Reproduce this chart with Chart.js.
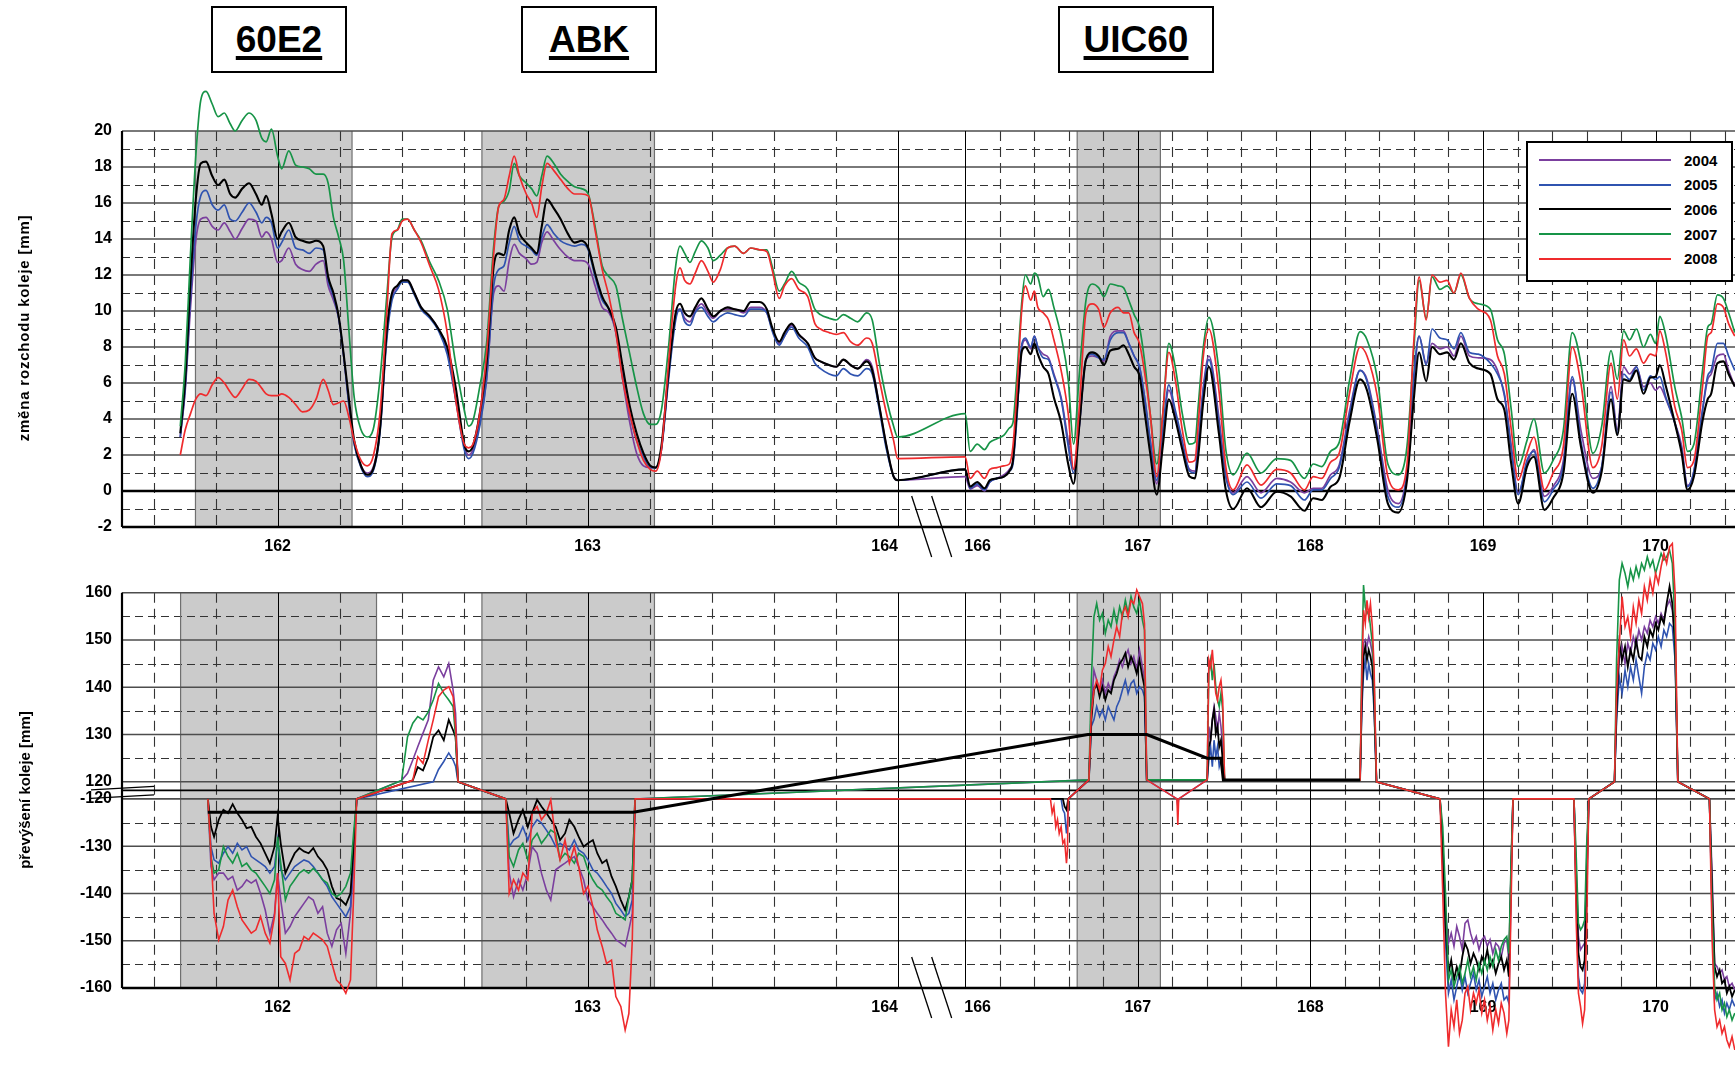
<!DOCTYPE html>
<html>
<head>
<meta charset="utf-8">
<title>Rozchod a převýšení koleje</title>
<script src="https://cdn.jsdelivr.net/npm/chart.js@4.4.1/dist/chart.umd.min.js"></script>
<style>
  body { margin: 0; width: 1735px; height: 1076px; overflow: hidden; position: relative; background: #fff;
         font-family: 'Liberation Sans', Arial, sans-serif; }
  canvas { position: absolute; left: 0; top: 0; }
  .tag { position: absolute; top: 6px; height: 67px; box-sizing: border-box; border: 2px solid #000; background: #fff;
         text-align: center; line-height: 63px; font-weight: bold; font-size: 37px;
         text-decoration: underline; text-decoration-thickness: 4px; text-underline-offset: 4px; }
  .ytitle { position: absolute; font-weight: bold; font-size: 15px; white-space: nowrap;
            transform: translate(-50%, -50%) rotate(-90deg); }
  #legend { position: absolute; left: 1526px; top: 141px; width: 207px; height: 141px; box-sizing: border-box;
            border: 2px solid #000; background: #fff; padding-top: 5px; }
  #legend .row { height: 24.6px; display: flex; align-items: center; font-weight: bold; font-size: 15px; }
  #legend .swatch { width: 132px; height: 2px; margin-left: 11px; margin-right: 13px; }
</style>
</head>
<body>
<canvas id="gauge" width="1735" height="1076"></canvas>
<canvas id="cant" width="1735" height="1076"></canvas>

<div class="tag" style="left:211px;width:136px">60E2</div>
<div class="tag" style="left:521px;width:136px">ABK</div>
<div class="tag" style="left:1058px;width:156px">UIC60</div>
<div class="ytitle" style="left:23px;top:328px;letter-spacing:0.8px">změna rozchodu koleje [mm]</div>
<div class="ytitle" style="left:24px;top:790px">převýšení koleje [mm]</div>
<div id="legend"></div>

<script>
// ---------- data: top chart, change of track gauge [mm] ----------
const topKm = [
  161.686, 161.702, 161.719, 161.736, 161.752, 161.769, 161.789, 161.808, 161.828, 161.847,
  161.863, 161.886, 161.908, 161.930, 161.949, 161.963, 161.980, 162.000, 162.013, 162.036,
  162.058, 162.080, 162.102, 162.124, 162.147, 162.163, 162.180, 162.197, 162.213, 162.230,
  162.247, 162.269, 162.289, 162.308, 162.330, 162.352, 162.369, 162.386, 162.402, 162.419,
  162.441, 162.463, 162.491, 162.519, 162.547, 162.574, 162.602, 162.616, 162.630, 162.652,
  162.674, 162.697, 162.713, 162.730, 162.747, 162.763, 162.780, 162.802, 162.819, 162.836,
  162.852, 162.869, 162.891, 162.913, 162.936, 162.958, 162.980, 163.002, 163.024, 163.047,
  163.069, 163.091, 163.113, 163.136, 163.158, 163.180, 163.202, 163.219,
  163.238, 163.261, 163.284, 163.298, 163.313, 163.330, 163.347, 163.367, 163.388, 163.405,
  163.428, 163.451, 163.474, 163.503, 163.526, 163.555, 163.578, 163.595, 163.618, 163.635,
  163.658, 163.681, 163.710, 163.733, 163.751, 163.779, 163.802, 163.825, 163.848, 163.871,
  163.900, 163.918, 163.941, 163.964, 163.987, 164.000,
  166.000, 166.029, 166.070, 166.112, 166.143, 166.184, 166.225, 166.256, 166.277, 166.298,
  166.329, 166.349, 166.380, 166.401, 166.421, 166.452, 166.483, 166.514, 166.556, 166.597,
  166.628, 166.659, 166.700, 166.736, 166.773, 166.804, 166.841, 166.886, 166.917, 166.948,
  166.979, 167.010, 167.041, 167.072, 167.110, 167.145, 167.180, 167.217, 167.258, 167.300, 167.331,
  167.351, 167.380, 167.412, 167.470, 167.510, 167.553, 167.633, 167.714, 167.805, 167.885,
  167.966, 168.016, 168.066, 168.117, 168.167, 168.228, 168.288, 168.328, 168.389, 168.449,
  168.510, 168.560, 168.600, 168.630, 168.671, 168.705, 168.751, 168.792, 168.832, 168.872,
  168.922, 168.973, 169.043, 169.084, 169.124, 169.164, 169.204, 169.255, 169.295, 169.356,
  169.406, 169.466, 169.517, 169.567, 169.637, 169.688, 169.742, 169.778, 169.815, 169.849,
  169.889, 169.930, 169.970, 170.000, 170.024, 170.060, 170.111, 170.151, 170.185, 170.222,
  170.272, 170.302, 170.322, 170.358, 170.393, 170.423, 170.459
];
const gauge2004 = [
  3.0, 5.6, 10.2, 13.9, 15.1, 15.2, 14.7, 14.5, 14.9, 14.4, 14.0, 14.6, 15.1, 15.0, 14.1, 14.4, 14.0, 12.7, 12.8, 13.5,
  12.6, 12.3, 12.2, 12.6, 12.8, 11.4, 10.6, 9.6, 7.5, 4.8, 2.6, 1.4, 1.0, 1.3, 3.4, 8.6, 10.8, 11.3, 11.7, 11.7,
  11.0, 10.2, 9.7, 9.0, 7.8, 5.2, 2.5, 2.0, 2.3, 3.8, 6.2, 11.0, 11.4, 11.1, 12.8, 13.7, 13.2, 12.9, 12.6, 12.7,
  13.8, 14.4, 13.9, 13.4, 13.0, 12.8, 12.8, 12.6, 11.4, 10.2, 9.9, 8.8, 6.2, 3.8, 2.1, 1.4, 1.3, 1.3,
  2.3, 6.4, 9.7, 10.1, 9.6, 9.4, 10.0, 10.4, 9.9, 9.6, 10.0, 10.1, 10.1, 9.9, 10.2, 10.2, 9.9, 9.0, 8.2, 8.6,
  9.2, 8.7, 8.2, 7.4, 7.2, 7.0, 6.9, 7.3, 7.0, 6.8, 7.3, 6.9, 4.7, 2.5, 0.8, 0.6,
  0.8, 0.1, 0.3, 0.0, 0.5, 0.7, 0.9, 1.2, 1.7, 4.1, 8.0, 8.4, 7.9, 8.6, 8.0, 7.6, 7.4, 6.5, 5.2, 2.8,
  1.2, 3.4, 7.3, 7.5, 7.4, 7.2, 8.6, 8.9, 8.9, 8.2, 7.5, 6.9, 5.1, 2.8, 0.4, 3.2, 5.6, 4.3, 2.5, 1.2, 1.1,
  2.8, 5.8, 7.5, 4.1, 0.9, -0.1, 0.8, -0.1, 0.7, 0.5, -0.1, 0.15, 0.15, 0.9, 1.45, 4.5, 6.7, 6.2, 3.4, 0.06,
  -0.7, 1.1, 6.2, 8.6, 7.1, 8.2, 7.9, 8.0, 7.5, 8.6, 7.5, 7.4, 7.3, 6.7, 5.3, 2.5, -0.1, 1.5, 2.3, -0.3,
  0.24, 1.7, 6.2, 3.4, 0.7, 1.35, 5.8, 3.4, 6.9, 6.5, 6.9, 5.8, 6.0, 5.6, 5.8, 5.1, 3.8, 2.5, 0.3, 1.1,
  4.5, 6.2, 6.5, 7.5, 7.6, 6.7, 5.8
];
const gauge2005 = [
  3.0, 5.8, 10.8, 14.7, 16.4, 16.7, 15.9, 15.6, 15.9, 15.1, 15.0, 15.5, 16.0, 15.5, 14.9, 15.2, 14.9, 13.5, 13.8, 14.5,
  13.5, 13.4, 13.2, 13.5, 13.4, 11.7, 10.8, 9.6, 7.5, 4.8, 2.6, 1.3, 0.8, 1.1, 3.2, 8.4, 10.6, 11.2, 11.6, 11.6,
  10.9, 10.1, 9.6, 8.9, 7.6, 5.1, 2.3, 1.8, 2.1, 3.6, 6.2, 11.4, 12.3, 12.5, 13.8, 14.7, 13.9, 13.6, 13.4, 13.1,
  14.1, 14.8, 14.3, 13.9, 13.7, 13.6, 13.7, 13.4, 11.9, 10.6, 10.1, 8.9, 6.5, 4.3, 2.8, 1.9, 1.3, 1.3,
  2.3, 6.2, 9.5, 10.1, 9.4, 9.2, 9.9, 10.2, 9.7, 9.4, 9.7, 9.9, 9.8, 9.7, 10.1, 10.1, 9.9, 8.9, 8.1, 8.6,
  9.1, 8.5, 8.0, 7.1, 6.8, 6.5, 6.4, 6.8, 6.5, 6.4, 6.8, 6.5, 4.5, 2.3, 0.8, 0.6,
  1.2, 0.15, 0.4, 0.06, 0.5, 0.7, 0.8, 1.1, 1.5, 3.8, 8.2, 8.5, 8.0, 8.6, 8.0, 7.4, 7.3, 6.4, 5.1, 2.5,
  1.0, 3.4, 7.3, 7.6, 7.4, 7.3, 8.4, 8.8, 8.8, 8.2, 7.5, 6.9, 5.1, 2.8, 0.6, 3.4, 5.9, 4.5, 2.8, 1.1, 1.0,
  2.6, 5.6, 7.3, 3.8, 0.8, -0.2, 0.5, -0.4, 0.4, 0.3, -0.5, 0.06, 0.06, 0.7, 1.3, 4.3, 6.7, 6.1, 3.2, -0.3,
  -0.9, 1.0, 6.5, 8.6, 7.0, 9.0, 8.5, 8.4, 7.9, 8.8, 7.7, 7.6, 7.1, 6.5, 5.4, 2.3, -0.2, 1.7, 2.2, -0.6,
  0.06, 1.45, 6.35, 2.8, 0.15, 1.35, 5.5, 3.2, 6.5, 6.2, 6.9, 5.6, 6.4, 6.2, 6.35, 5.2, 3.8, 2.3, 0.24, 1.1,
  4.5, 6.4, 6.7, 8.2, 8.2, 7.5, 6.7
];
const gauge2006 = [
  3.2, 6.2, 11.7, 16.2, 18.2, 18.3, 17.5, 17.0, 17.3, 16.5, 16.3, 16.8, 17.1, 16.5, 15.9, 16.4, 15.4, 14.0, 14.4, 14.9,
  14.1, 13.9, 13.8, 13.9, 13.6, 11.9, 11.0, 9.7, 7.6, 5.1, 2.8, 1.4, 0.9, 1.2, 3.4, 8.9, 11.0, 11.4, 11.7, 11.7,
  11.0, 10.2, 9.7, 9.0, 8.0, 5.8, 2.6, 2.2, 2.5, 4.3, 7.1, 12.5, 13.2, 13.1, 14.5, 15.2, 14.3, 13.8, 13.5, 13.2,
  14.7, 16.2, 15.7, 15.1, 14.3, 13.8, 13.9, 13.5, 12.1, 10.8, 10.1, 9.1, 6.9, 4.7, 3.2, 2.1, 1.4, 1.3,
  2.5, 6.6, 9.9, 10.4, 9.9, 9.7, 10.2, 10.7, 10.1, 9.7, 10.0, 10.2, 10.1, 10.0, 10.5, 10.5, 10.1, 9.1, 8.3, 8.8,
  9.3, 8.7, 8.2, 7.4, 7.2, 7.0, 6.9, 7.3, 7.0, 6.8, 7.2, 6.7, 4.7, 2.5, 0.8, 0.6,
  1.2, 0.24, 0.5, 0.15, 0.6, 0.7, 0.8, 1.1, 1.7, 4.3, 7.8, 8.0, 7.6, 8.2, 7.6, 6.9, 6.5, 5.2, 3.8, 1.5,
  0.4, 3.4, 7.3, 7.7, 7.5, 7.0, 7.8, 7.9, 8.1, 7.6, 6.9, 6.4, 4.3, 2.1, -0.2, 2.5, 5.1, 4.0, 2.3, 0.8, 0.7,
  2.0, 5.0, 6.9, 3.2, 0.06, -1.0, 0.15, -0.9, -0.04, -0.3, -1.1, -0.4, -0.5, 0.24, 0.7, 3.9, 6.2, 5.6, 2.8, -0.7,
  -1.2, 0.6, 5.2, 7.7, 6.1, 8.0, 7.6, 7.7, 7.3, 8.2, 7.1, 6.8, 6.5, 5.1, 4.5, 1.5, -0.7, 1.35, 1.9, -1.05,
  -0.4, 1.0, 5.4, 2.5, -0.1, 1.1, 5.1, 3.1, 6.2, 6.1, 6.7, 5.4, 6.3, 6.35, 7.0, 5.8, 3.8, 2.1, 0.06, 0.8,
  3.9, 5.1, 5.4, 7.1, 7.2, 6.5, 5.8
];
const gauge2007 = [
  3.6, 7.1, 13.2, 18.6, 21.7, 22.2, 21.5, 20.8, 21.0, 20.4, 20.0, 20.6, 21.0, 20.6, 19.6, 19.4, 20.1, 18.6, 17.9, 18.9,
  18.1, 18.0, 17.9, 17.6, 17.6, 17.1, 15.2, 14.1, 12.8, 8.9, 5.2, 3.4, 3.0, 3.4, 6.2, 10.8, 14.1, 14.5, 15.1, 15.1,
  14.5, 13.9, 12.7, 11.7, 10.1, 7.1, 4.5, 3.6, 3.9, 5.8, 8.2, 13.6, 15.8, 16.1, 16.7, 18.2, 17.5, 17.1, 16.8, 16.4,
  17.5, 18.6, 18.2, 17.6, 17.2, 16.9, 16.8, 16.5, 14.7, 12.5, 11.9, 11.4, 9.5, 7.6, 5.8, 4.3, 3.7, 3.7,
  4.5, 8.0, 12.5, 13.6, 13.2, 12.7, 13.3, 13.9, 13.5, 12.8, 13.1, 13.5, 13.6, 13.2, 13.5, 13.4, 13.4, 12.5, 11.1, 11.5,
  12.2, 11.6, 11.2, 10.1, 9.8, 9.6, 9.5, 9.8, 9.6, 9.4, 9.9, 9.5, 7.1, 5.1, 3.6, 3.0,
  4.3, 2.2, 2.6, 2.3, 2.7, 2.9, 3.1, 3.5, 3.8, 6.2, 10.6, 12.0, 11.5, 12.1, 11.9, 10.8, 11.2, 10.2, 8.6, 6.2,
  2.6, 6.2, 10.6, 11.5, 11.3, 10.8, 11.5, 11.4, 11.3, 10.6, 9.8, 9.1, 7.1, 4.3, 1.5, 4.3, 8.2, 6.9, 4.3, 2.6, 2.7,
  4.8, 8.0, 9.65, 6.7, 2.3, 0.9, 2.1, 1.0, 1.8, 1.7, 0.7, 1.5, 1.35, 2.2, 2.7, 6.2, 8.85, 8.4, 6.2, 1.5,
  0.9, 2.5, 8.0, 11.7, 9.6, 11.9, 11.2, 11.4, 11.0, 12.0, 10.7, 10.4, 10.1, 8.4, 7.6, 4.5, 1.35, 2.8, 4.0, 1.0,
  1.7, 3.4, 8.8, 7.1, 2.1, 3.6, 7.8, 6.2, 8.9, 8.4, 9.0, 8.0, 8.7, 8.2, 9.7, 8.6, 5.8, 4.1, 2.2, 2.6,
  6.7, 9.1, 9.3, 10.9, 10.7, 9.9, 8.8
];
const gauge2008 = [
  2.0, 3.4, 4.3, 5.1, 5.4, 5.3, 5.9, 6.3, 6.0, 5.5, 5.2, 5.7, 6.2, 6.1, 5.7, 5.4, 5.3, 5.3, 5.4, 5.2,
  4.8, 4.4, 4.5, 5.1, 6.2, 5.6, 4.8, 4.9, 5.0, 4.1, 2.8, 1.7, 1.4, 1.9, 4.3, 9.9, 14.3, 14.5, 15.0, 15.1,
  14.5, 13.8, 12.5, 11.2, 8.8, 5.1, 2.6, 2.4, 2.6, 4.3, 7.6, 13.2, 15.8, 16.2, 17.5, 18.6, 17.5, 16.5, 16.0, 15.2,
  16.9, 18.2, 17.8, 17.3, 16.8, 16.5, 16.5, 16.4, 14.5, 12.3, 10.8, 8.8, 6.2, 4.3, 2.8, 1.7, 1.2, 1.1,
  2.3, 7.1, 11.4, 12.4, 11.7, 11.5, 12.1, 12.8, 12.2, 11.6, 12.3, 13.5, 13.6, 13.2, 13.5, 13.4, 13.3, 12.3, 10.7, 11.4,
  11.8, 11.2, 10.8, 9.3, 9.0, 8.8, 8.7, 8.8, 8.3, 8.1, 8.5, 8.2, 6.2, 4.3, 2.8, 1.8,
  1.9, 0.7, 1.1, 0.7, 1.2, 1.3, 1.4, 1.5, 2.5, 5.3, 10.2, 11.4, 10.6, 11.1, 10.2, 9.9, 9.5, 8.4, 6.7, 4.3,
  1.2, 4.3, 9.9, 10.4, 10.1, 9.1, 9.9, 10.2, 9.9, 9.9, 8.8, 8.2, 6.5, 4.3, 0.8, 4.3, 7.7, 6.2, 3.4, 1.6, 1.7,
  3.8, 7.5, 9.0, 5.6, 1.35, 0.06, 1.45, 0.33, 1.2, 1.0, 0.06, 0.8, 0.7, 1.6, 2.1, 5.5, 8.0, 7.5, 5.2, 0.8,
  0.06, 1.5, 8.4, 11.9, 9.5, 12.0, 11.6, 11.7, 11.0, 12.1, 10.7, 10.1, 9.5, 7.5, 6.5, 3.4, 0.6, 2.1, 3.0, 0.06,
  1.0, 2.5, 8.0, 6.0, 1.3, 2.5, 7.1, 5.1, 8.4, 7.5, 7.9, 7.1, 7.6, 7.5, 8.9, 7.6, 4.7, 3.4, 1.3, 1.7,
  5.8, 8.6, 8.8, 10.4, 10.2, 9.3, 8.6
];

// ---------- data: bottom chart, superelevation [mm] (null = no reading at that km) ----------
const bottomKm = [
  161.775,
  161.785, 161.795, 161.810, 161.825, 161.840, 161.855, 161.870, 161.885, 161.900, 161.915,
  161.930, 161.945, 161.960, 161.975, 161.990, 162.000, 162.010, 162.025, 162.040, 162.055,
  162.070, 162.085, 162.100, 162.115, 162.130, 162.145, 162.160, 162.175, 162.190, 162.205,
  162.220, 162.235, 162.245,
  162.255,
  162.400, 162.419, 162.436, 162.452, 162.469, 162.486, 162.502, 162.519, 162.536, 162.552, 162.566, 162.574, 162.582,
  162.736,
  162.747, 162.761, 162.777, 162.791, 162.807, 162.821, 162.837, 162.851, 162.867, 162.881,
  162.897, 162.911, 162.927, 162.941, 162.957, 162.971, 162.987, 163.001, 163.017, 163.031,
  163.047, 163.061, 163.077, 163.091, 163.107, 163.121, 163.133, 163.144,
  163.153,
  166.494, 166.504, 166.514, 166.525, 166.535, 166.545, 166.556, 166.566, 166.576, 166.587, 166.593, 166.597,
  166.717, 166.731, 166.746, 166.762, 166.779, 166.795, 166.812, 166.829, 166.845, 166.862,
  166.878, 166.895, 166.911, 166.928, 166.944, 166.961, 166.977, 166.994, 167.010, 167.027, 167.039, 167.052,
  167.227, 167.232, 167.237,
  167.402, 167.412, 167.422, 167.432, 167.442, 167.452, 167.462, 167.472, 167.482, 167.492, 167.503,
  168.288, 168.298, 168.308, 168.318, 168.328, 168.338, 168.348, 168.359, 168.369, 168.383,
  168.751, 168.767, 168.783, 168.800, 168.816, 168.832, 168.848, 168.864, 168.880, 168.896,
  168.912, 168.928, 168.945, 168.961, 168.977, 168.993, 169.009, 169.025, 169.041, 169.057,
  169.074, 169.090, 169.106, 169.122, 169.138, 169.150, 169.164, 169.174,
  169.527, 169.541, 169.553, 169.565, 169.577, 169.589, 169.601, 169.613,
  169.762, 169.774, 169.790, 169.806, 169.823, 169.839, 169.855, 169.871, 169.887, 169.903,
  169.919, 169.935, 169.952, 169.968, 169.984, 170.000, 170.016, 170.032, 170.048, 170.064,
  170.081, 170.097, 170.113, 170.129,
  170.312, 170.328, 170.342, 170.356, 170.371, 170.385, 170.399, 170.413, 170.427, 170.443, 170.459
];
const cant2004 = [
  -120,
  -134.3, -137.1, -135.7, -135.7, -137.1, -136.4, -139.3, -138.5, -137.1, -137.8, -137.1, -140, -143.5, -148.4, -144.2,
  -135.7, -141.4, -148.4, -147, -144.9, -143.5, -142.1, -140.7, -141.4, -144.2, -142.8, -148.4, -151.2, -147.7, -146.3,
  -152.7, -144.2, -134.3,
  -120,
  120.3, 121.8, 124.6, 127.4, 130.3, 133.1, 141.5, 144.3, 142.2, 145.0, 139.4, 134.5, 120,
  -120,
  -135.7, -140.7, -137.1, -139.3, -135.7, -130.1, -131.5, -135.7, -139.3, -141.4, -135, -134.3, -133.6, -132.9,
  -132.2, -134.3, -137.1, -141.4, -142.8, -144.2, -145.6, -147, -148.4, -149.8, -150.5, -151.2, -147.7, -144.2,
  -120,
  null, null, null, null, null, null, null, null, null, null, null, null,
  120.4, 135.9, 143.6, 141.5, 139.4, 141.5, 138.7, 140.8, 139.4, 142.2, 143.6,
  145.8, 144.3, 146.5, 147.9, 145, 146.5, 143.6, 147.9, 144.3, 141.5, 120.4,
  null, null, null,
  120.4, 131.7, 128.8, 133.1, 135.9, 133.8, 130.9, 134.5, 131.7, 127.4, 120.4,
  120.4, 138.7, 149.3, 150, 148.6, 150.7, 149.3, 147.2, 138.7, 120,
  -120, -129.4, -143.5, -150.5, -148.4, -151.2, -147, -149.1, -151.9, -146.3, -145.6, -148.4, -150.5, -149.1,
  -151.9, -149.8, -149.1, -151.2, -149.8, -152.7, -150.5, -151.2, -153.4, -150.5, -149.8, -154.1, -132.9, -120,
  -120, -136.4, -149.1, -151.9, -151.2, -150.5, -132.9, -120,
  120, 137.3, 145.8, 148.6, 145, 149.3, 147.2, 150.7, 148.6, 152.1, 150, 152.8,
  151.4, 154.2, 152.8, 154.9, 153.5, 155.6, 154.2, 157, 158.4, 156.3, 149.3, 120,
  -120, -136.4, -154.8, -155.5, -156.9, -156.2, -158.3, -157.6, -159.7, -159, -160.4
];
const cant2005 = [
  -120,
  -130.1, -132.9, -133.6, -131.5, -130.1, -131.5, -129.4, -130.8, -130.1, -132.2, -132.9, -133.6, -134.3, -135.7, -134.3,
  -128.7, -135, -137.1, -135.7, -134.3, -133.6, -132.9, -133.3, -134.3, -135.7, -137.1, -138.5, -140.7, -142.1, -143.5,
  -144.9, -142.8, -131.5,
  -120,
  null, null, null, null, null, null, 120, 122.6, 124.3, 126.1, 124.6, 123.3, 120,
  -120,
  -130.1, -128.7, -128, -125.9, -128.7, -125.9, -124.4, -125.1, -126.6, -128, -130.1, -129.4, -130.1, -130.8,
  -128.7, -130.8, -131.5, -132.9, -135, -135.7, -137.1, -138.5, -140, -142.1, -143.5, -144.9, -144.2, -141.4,
  -120,
  -120, null, null, null, null, null, -120, -122.3, -123, -127.3, -125.1, -120,
  120.4, 131.7, 133.1, 135.9, 133.8, 135.2, 133.1, 135.9, 134.5, 133.1, 135.9,
  137.3, 139.4, 141.5, 138.7, 140.8, 141.5, 138.7, 140.1, 139.4, 138, 120.4,
  -120, -121.5, -120,
  120.4, 124.6, 127.4, 123.2, 128.8, 125.3, 127.4, 123.2, 124.6, 122.5, 120.4,
  120.4, 135.2, 142.9, 145.8, 141.5, 145, 142.9, 141.5, 135.2, 120,
  -120, -132.9, -150.5, -161.1, -158.3, -162.5, -159.7, -156.9, -160.4, -157.6, -161.1, -159, -156.9, -160.4,
  -158.3, -161.8, -159.7, -157.6, -161.1, -159, -162.5, -160.4, -159, -162.5, -161.8, -163.2, -136.4, -120,
  -120, -143.5, -157.6, -160.4, -161.1, -159, -140, -120,
  120, 133.1, 142.2, 138.7, 143.6, 140.1, 144.3, 141.5, 145.8, 142.2, 138.7, 144.3,
  147.2, 145.8, 149.3, 147.9, 150.7, 148.6, 152.1, 150.7, 153.5, 152.8, 145.8, 120,
  -120, -145.6, -162.5, -161.1, -163.9, -162.5, -165.3, -163.2, -164.6, -162.5, -163.9
];
const cant2006 = [
  -120,
  -125.9, -128, -124.4, -122.3, -123, -121.1, -123, -124.4, -126.2, -125.9, -128, -129.4, -131.5, -133.6, -130.1,
  -123.7, -129.4, -135.7, -133.6, -131.5, -130.4, -131.1, -131.5, -130.4, -132.2, -133.3, -135, -138.5, -141, -141.4,
  -142.4, -140, -130,
  -120,
  null, null, 120.3, 123.1, 122.4, 125.2, 129.5, 130.9, 128.8, 133.1, 130.9, 129.5, 120,
  -120,
  -123, -127.3, -124.4, -122.3, -125.9, -123, -120.2, -121.6, -123, -124.4, -125.9, -128.7, -127.3, -124.4,
  -125.9, -128, -130.1, -129.4, -128.7, -131.5, -133.6, -132.9, -136.4, -138.5, -141.4, -143.5, -140.7, -137.1,
  -120,
  -120, null, null, null, null, null, null, -120, -121.6, -122.3, null, -120,
  120.4, 133.1, 139.4, 140.8, 138, 140.1, 137.3, 139.4, 138.7, 141.5, 142.9,
  145, 145.8, 147.2, 144.3, 146.5, 145, 142.9, 145.8, 142.2, 140.1, 120.4,
  null, null, null,
  120.4, 127.4, 128.8, 133.1, 135.2, 130.2, 131.7, 127.4, 128.8, 124.6, 120.4,
  120.4, 137.3, 146.5, 148.6, 145.8, 147.9, 146.5, 144.3, 137.3, 120,
  -120, -130.8, -147, -156.9, -154.1, -158.3, -155.5, -157.6, -153.4, -150.5, -151.9, -154.8, -152.7, -154.1,
  -156.2, -153.4, -154.8, -151.9, -155.5, -154.1, -156.9, -154.8, -153.4, -156.2, -154.1, -157.6, -134.3, -120,
  -120, -140, -152.7, -155.5, -156.2, -154.1, -136.4, -120,
  120, 135.2, 149.3, 145.8, 148.6, 144.3, 147.9, 145.8, 150, 146.5, 145.8, 150.7,
  148.6, 152.1, 150.7, 153.5, 152.1, 154.9, 153.5, 157.7, 161.3, 157.7, 148.6, 120,
  -120, -140, -155.5, -157.6, -156.2, -159, -158.3, -161.1, -159.7, -161.8, -160.4
];
const cant2007 = [
  -120,
  -132.2, -135.7, -135, -130.1, -132.2, -133.6, -131.5, -134.3, -133.6, -135, -135.7, -137.1, -138.5, -140, -137.1,
  -128, -133.6, -141.4, -138.5, -137.1, -135.7, -135, -135.7, -134.7, -135.7, -137.1, -137.8, -140, -140.7, -140,
  -138.5, -135.7, -127.3,
  -120,
  120.3, 129.5, 132.4, 133.8, 133.1, 134.8, 137.3, 140.8, 138.7, 137.3, 135.9, 129.5, 120,
  -120,
  -132.2, -134.3, -130.8, -129.4, -132.9, -128.7, -127.3, -129.4, -128, -126.6, -127.3, -132.9, -131.5, -132.2,
  -133.6, -131.5, -132.2, -135, -137.1, -138.5, -139.3, -140.7, -142.1, -144.2, -144.9, -145.6, -140.7, -137.1,
  -120,
  null, null, null, null, null, null, null, null, null, null, null, null,
  120.4, 141.5, 154.9, 157.7, 154.2, 155.6, 151.4, 154.2, 152.8, 156.3, 153.5,
  157, 154.9, 158.4, 155.6, 159.2, 157, 155.6, 158.4, 154.2, 152.1, 120.4,
  null, null, null,
  120.4, 143.6, 145.8, 141.5, 145, 140.1, 137.3, 135.9, 138.7, 135.2, 120.4,
  120.4, 145.8, 161.6, 157, 155.6, 156.3, 152.8, 149.3, 142.2, 120,
  -120, -125.9, -140, -158.3, -156.2, -159.7, -157.6, -155.5, -159, -156.9, -154.1, -157.6, -155.5, -158.3,
  -154.8, -156.9, -154.1, -156.2, -153.4, -155.5, -151.9, -154.1, -151.2, -149.8, -149.1, -152.7, -131.5, -120,
  -120, -132.9, -146.3, -147.7, -147, -145.6, -129.4, -120,
  120, 145.8, 162.7, 166.2, 164.1, 161.3, 164.8, 162.7, 165.5, 163.4, 166.2, 164.8,
  167.6, 165.5, 166.9, 164.1, 166.2, 168.3, 166.9, 167.6, 169, 166.2, 152.8, 120,
  -120, -143.5, -159.7, -162.5, -161.1, -164.6, -163.2, -166.1, -164.6, -166.8, -165.3
];
const cant2008 = [
  -120,
  -131.5, -144.2, -149.8, -147, -141.4, -139.3, -142.8, -145.6, -147, -148.4, -147.7, -144.9, -148.4, -150.5, -144.9,
  -135.7, -153.4, -154.8, -158.3, -152.7, -151.9, -149.1, -149.8, -148.4, -149.1, -149.8, -151.2, -154.8, -158.3, -159.3,
  -161.1, -158.3, -140.7,
  -120,
  null, null, 120.3, 125.3, 123.9, 128.8, 133.1, 138, 139.4, 140.1, 138, 131.7, 120,
  -120,
  -140, -137.1, -139.3, -135.7, -137.1, -123, -121.6, -124.4, -123, -120.2, -128.7, -132.9, -128.7, -133.6,
  -130.1, -134.3, -140, -138.5, -142.8, -147.7, -151.2, -154.8, -154.1, -161.8, -163.9, -168.9, -165.4, -150,
  -120,
  -120, -123, -121.6, -125.9, -124.4, -127.3, -125.9, -129.4, -128.7, -133.6, -130.8, -120,
  120.4, 134.5, 139.4, 141.5, 139.4, 143.6, 145, 148.6, 146.5, 150, 152.8,
  150.7, 155.6, 157, 154.9, 158.4, 157.7, 160.6, 159.2, 157.7, 153.5, 120.4,
  -120, -125.5, -120,
  120.4, 145.8, 144.3, 147.9, 142.9, 138.7, 137.3, 140.1, 141.5, 137.3, 120.4,
  120.4, 142.2, 156.3, 153.5, 158.4, 154.9, 157.7, 152.8, 144.3, 120,
  -120, -140, -161.1, -172.4, -164.6, -168.2, -162.5, -169.6, -166.8, -161.1, -159.7, -164.6, -161.1, -163.2,
  -160.4, -165.3, -162.5, -166.8, -163.9, -168.9, -164.6, -167.5, -163.2, -165.3, -169.6, -166.8, -140, -120,
  -120, -147, -161.1, -163.9, -167.5, -164.6, -147, -120,
  120, 138.7, 149.3, 159.2, 152.8, 154.9, 150.7, 157, 153.5, 158.4, 155.6, 161.3,
  158.4, 162.7, 159.9, 164.1, 162, 165.5, 168.3, 166.2, 169.7, 170.4, 159.9, 120,
  -120, -150.5, -164.6, -168.2, -166.8, -169.6, -168.2, -171, -172.4, -170.3, -173.1
];
// thick black reference line of the bottom chart
const designKm = [161.775, 163.147, 166.711, 167.052, 167.402, 167.482, 167.496, 168.288];
const designMm = [-122.8, -122.8, 130, 130, 125, 125, 120.4, 120.4];

const years = ['2004', '2005', '2006', '2007', '2008'];
const colors = ['#7b3f9e', '#2f53b0', '#000000', '#179447', '#ef2b2d'];
const gaugeSeries = [gauge2004, gauge2005, gauge2006, gauge2007, gauge2008];
const cantSeries = [cant2004, cant2005, cant2006, cant2007, cant2008];
const xTickKm = [162, 163, 164, 166, 167, 168, 169, 170];
const xTickLabels = ['162', '163', '164', '166', '167', '168', '169', '170'];
const yTicksGauge = [-2, 0, 2, 4, 6, 8, 10, 12, 14, 16, 18, 20];
const yTicksCant = [160, 150, 140, 130, 120, -120, -130, -140, -150, -160];
const bandsGauge = [[161.735, 162.24], [162.659, 163.2155], [166.649, 167.131]];
const bandsCant = [[161.687, 162.319], [162.659, 163.2155], [166.649, 167.131]];

// ---------- axis geometry ----------
const PX_PER_KM = 310;
const BREAK_FROM = 164, BREAK_TO = 166;
const BREAK_GAP = 67.5 / PX_PER_KM;     // short gap drawn between 164 and 166
const RIGHT_RATIO = 172.6 / PX_PER_KM;  // the km after the break are drawn narrower
const X_MIN = 161.498, X_MAX = 166.701;
const LABEL_SHIFT = { 164: -13, 166: 12.5 };  // px, keeps labels clear of the break marks
const CANT_GAP = 1.81;                   // half of the split between +120 and -120
const CANT_HALF = 41.81;                 // 160 and -160 on the split axis

function toAxis(km) {
  return km <= BREAK_FROM ? km : BREAK_FROM + BREAK_GAP + (km - BREAK_TO) * RIGHT_RATIO;
}
function toCantAxis(v) {
  return v >= 0 ? v - 120 + CANT_GAP : v + 120 - CANT_GAP;
}
function points(km, vals, mapY) {
  const out = [];
  km.forEach((k, i) => { if (vals[i] !== null) out.push({ x: toAxis(k), y: mapY(vals[i]) }); });
  return out;
}

// minor vertical grid every 0.2 km, on both sides of the break
const majorKm = xTickKm;
const minorKm = [];
[[161.6, 163.8], [166.2, 170.4]].forEach(([a, b]) => {
  for (let i = 0; ; i++) {
    const k = Math.round((a + i * 0.2) * 10) / 10;
    if (k > b + 1e-6) break;
    if (Math.abs(k - Math.round(k)) > 1e-6) minorKm.push(k);
  }
});

function railGrid(spec) {
  return {
    id: 'railGrid',
    beforeDatasetsDraw(chart) {
      const { ctx, chartArea: a, scales: { x, y } } = chart;
      const px = km => x.getPixelForValue(toAxis(km));
      const py = v => y.getPixelForValue(spec.mapY(v));
      const h = yy => { ctx.beginPath(); ctx.moveTo(a.left, yy); ctx.lineTo(a.right, yy); ctx.stroke(); };
      const v = xx => { ctx.beginPath(); ctx.moveTo(xx, a.top); ctx.lineTo(xx, a.bottom); ctx.stroke(); };
      ctx.save();
      ctx.fillStyle = '#cbcbcb';
      spec.bands.forEach(([k0, k1]) => ctx.fillRect(px(k0), a.top, px(k1) - px(k0), a.bottom - a.top));
      // dashed minor grid
      ctx.strokeStyle = '#333';
      ctx.lineWidth = 1.1;
      ctx.setLineDash([10, 6]);
      minorKm.forEach(k => v(Math.round(px(k)) + 0.5));
      ctx.setLineDash([8, 5]);
      spec.minorY.forEach(val => h(Math.round(py(val)) + 0.5));
      ctx.setLineDash([]);
      // band edges
      ctx.strokeStyle = '#707070';
      ctx.lineWidth = 1.2;
      spec.bands.forEach(([k0, k1]) => { v(px(k0)); v(px(k1)); });
      // solid major grid
      ctx.strokeStyle = '#4d4d4d';
      ctx.lineWidth = 1.6;
      spec.majorY.forEach(val => h(py(val)));
      ctx.strokeStyle = '#000';
      ctx.lineWidth = 1;
      majorKm.forEach(k => v(Math.round(px(k)) + 0.5));
      if (spec.midLine) { ctx.lineWidth = 1.6; h(y.getPixelForValue(0)); }
      ctx.lineWidth = 2.6;
      spec.boldY.forEach(val => h(py(val)));
      ctx.lineWidth = 2.2;
      v(a.left);
      ctx.restore();
    },
    afterDatasetsDraw(chart) {
      const { ctx, chartArea: a, scales: { x, y } } = chart;
      const seg = (x0, y0, x1, y1) => { ctx.beginPath(); ctx.moveTo(x0, y0); ctx.lineTo(x1, y1); ctx.stroke(); };
      const xb = x.getPixelForValue(toAxis(BREAK_FROM));
      ctx.save();
      ctx.strokeStyle = '#000';
      ctx.lineWidth = 1.3;
      [14, 34].forEach(d => seg(xb + d, a.bottom - 31, xb + d + 20, a.bottom + 30));
      if (spec.midLine) {
        const ym = y.getPixelForValue(0);
        seg(a.left - 31, ym - 0.5, a.left + 32, ym - 4);
        seg(a.left - 31, ym + 8, a.left + 32, ym + 4.5);
      }
      ctx.restore();
    }
  };
}

Chart.defaults.font.family = "'Liberation Sans', Arial, sans-serif";
const tickFont = { size: 16, weight: 'bold' };

function chartOptions(o) {
  return {
    responsive: false,
    animation: false,
    devicePixelRatio: 1,
    events: [],
    layout: { autoPadding: false, padding: { top: o.padTop, bottom: o.padBottom, left: 0, right: 0 } },
    plugins: { legend: { display: false }, tooltip: { enabled: false } },
    elements: { point: { radius: 0 } },
    scales: {
      x: {
        type: 'linear', min: X_MIN, max: X_MAX,
        grid: { display: false, drawTicks: false },
        border: { display: false },
        afterBuildTicks: s => {
          s.ticks = xTickKm.map(k => ({ value: toAxis(k) + (LABEL_SHIFT[k] || 0) / PX_PER_KM }));
        },
        afterFit: s => { s.height = 30; },
        ticks: { autoSkip: false, maxRotation: 0, padding: 10, color: '#000', font: tickFont,
                 callback: (val, i) => xTickLabels[i] }
      },
      y: {
        type: 'linear', min: o.yMin, max: o.yMax,
        grid: { display: false, drawTicks: false },
        border: { display: false },
        afterBuildTicks: s => { s.ticks = o.yTicks.map(v => ({ value: o.mapY(v) })); },
        afterFit: s => { s.width = 122; },
        ticks: { autoSkip: false, padding: 10, color: '#000', font: tickFont,
                 callback: (val, i) => String(o.yTicks[i]) }
      }
    }
  };
}

// top chart: change of gauge
new Chart(document.getElementById('gauge'), {
  type: 'line',
  data: {
    datasets: years.map((yr, i) => ({
      label: yr,
      data: points(topKm, gaugeSeries[i], v => v),
      borderColor: colors[i],
      borderWidth: i === 2 ? 2.1 : 1.7,
      cubicInterpolationMode: 'monotone',
      clip: false,
      order: 5 - i
    }))
  },
  options: chartOptions({ padTop: 131, padBottom: 1076 - 527 - 30, yMin: -2, yMax: 20,
                          yTicks: yTicksGauge, mapY: v => v }),
  plugins: [railGrid({
    mapY: v => v,
    bands: bandsGauge,
    majorY: [2, 4, 6, 8, 10, 12, 14, 16, 18, 20],
    minorY: [-1, 1, 3, 5, 7, 9, 11, 13, 15, 17, 19],
    boldY: [0, -2]
  })]
});

// bottom chart: superelevation, split axis
const cantDatasets = years.map((yr, i) => ({
  label: yr,
  data: points(bottomKm, cantSeries[i], toCantAxis),
  borderColor: colors[i],
  borderWidth: i === 2 ? 1.8 : 1.6,
  tension: 0,
  spanGaps: true,
  clip: false,
  order: 6 - i
}));
cantDatasets.push({
  label: 'projekt',
  data: points(designKm, designMm, toCantAxis),
  borderColor: '#000',
  borderWidth: 3,
  tension: 0,
  clip: false,
  order: 0
});
new Chart(document.getElementById('cant'), {
  type: 'line',
  data: { datasets: cantDatasets },
  options: chartOptions({ padTop: 592.7, padBottom: 1076 - 988 - 30, yMin: -CANT_HALF, yMax: CANT_HALF,
                          yTicks: yTicksCant, mapY: toCantAxis }),
  plugins: [railGrid({
    mapY: toCantAxis,
    bands: bandsCant,
    majorY: [160, 150, 140, 130, 120, -120, -130, -140, -150],
    minorY: [155, 145, 135, 125, -125, -135, -145, -155],
    boldY: [-160],
    midLine: true
  })]
});

// legend
const legend = document.getElementById('legend');
years.forEach((yr, i) => {
  const row = document.createElement('div');
  row.className = 'row';
  const sw = document.createElement('span');
  sw.className = 'swatch';
  sw.style.background = colors[i];
  const tx = document.createElement('span');
  tx.textContent = yr;
  row.appendChild(sw);
  row.appendChild(tx);
  legend.appendChild(row);
});
</script>
</body>
</html>
